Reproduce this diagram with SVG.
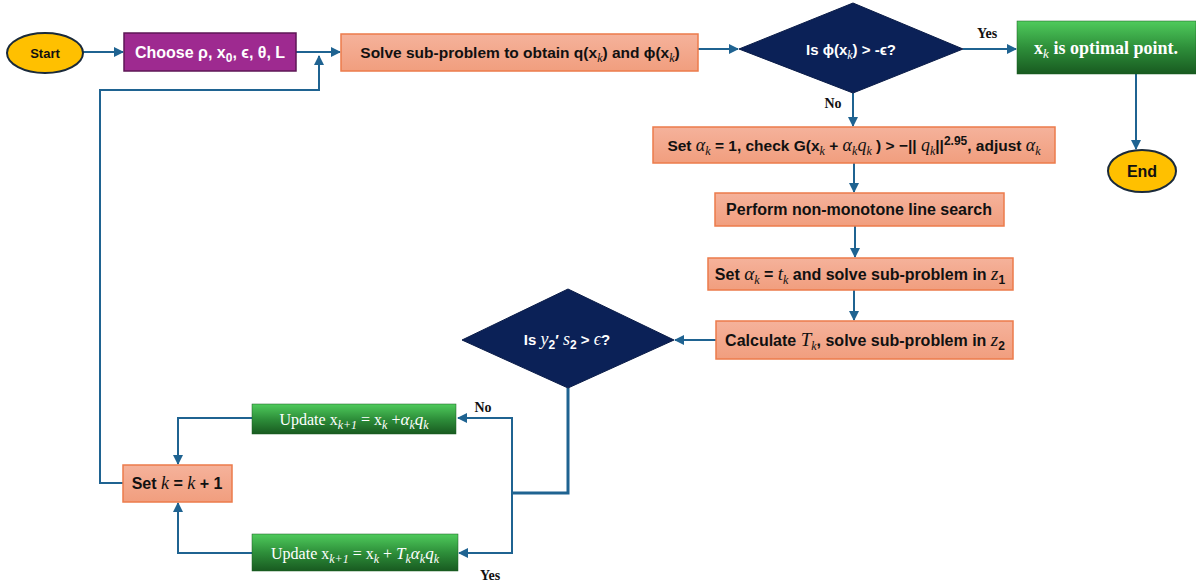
<svg xmlns="http://www.w3.org/2000/svg" width="1196" height="586" viewBox="0 0 1196 586">
<defs>
<linearGradient id="gs" x1="0" y1="0" x2="0" y2="1"><stop offset="0" stop-color="#F5B29B"/><stop offset="1" stop-color="#F19E7E"/></linearGradient>
<linearGradient id="gg" x1="0" y1="0" x2="0" y2="1"><stop offset="0" stop-color="#4FCB5C"/><stop offset="0.5" stop-color="#2E8F3A"/><stop offset="1" stop-color="#185A20"/></linearGradient>
<marker id="ah" markerUnits="userSpaceOnUse" markerWidth="10" markerHeight="10" viewBox="0 0 10 10" refX="9" refY="5" orient="auto"><path d="M0,0 L10,5 L0,10 Z" fill="#1F6391"/></marker>
<style>
.c{fill:none;stroke:#1F6391;stroke-width:2}
.s{fill:url(#gs);stroke:#EC7B4B;stroke-width:1.5}
.g{fill:url(#gg);stroke:#1a5c22;stroke-width:0.5}
.d{fill:#0B2157;stroke:#0a1c48;stroke-width:1}
.t{font-family:"Liberation Sans",Arial,sans-serif;font-weight:bold;font-size:15px;fill:#111;text-anchor:middle}
.w{fill:#fff}
.sf{font-family:"Liberation Serif","Times New Roman",serif;font-weight:bold;font-size:15px;fill:#fff;text-anchor:middle}
.lb{font-family:"Liberation Serif","Times New Roman",serif;font-weight:bold;font-size:14px;fill:#111;text-anchor:middle}
.m{font-family:"Liberation Serif","Times New Roman",serif;font-style:italic;font-weight:normal}
.sb{font-size:12px}
</style>
</defs>
<g id="connectors">
<line class="c" x1="83" y1="52" x2="123" y2="52" marker-end="url(#ah)"/>
<line class="c" x1="296" y1="52" x2="340" y2="52" marker-end="url(#ah)"/>
<polyline class="c" points="123,483 100,483 100,90 319,90 319,56" marker-end="url(#ah)"/>
<line class="c" x1="698" y1="49" x2="738" y2="49" marker-end="url(#ah)"/>
<line class="c" x1="963" y1="49" x2="1016" y2="49" marker-end="url(#ah)"/>
<line class="c" x1="1136" y1="74" x2="1136" y2="149" marker-end="url(#ah)"/>
<line class="c" x1="853" y1="93" x2="853" y2="126" marker-end="url(#ah)"/>
<line class="c" x1="854" y1="163" x2="854" y2="192" marker-end="url(#ah)"/>
<line class="c" x1="855" y1="226" x2="855" y2="257" marker-end="url(#ah)"/>
<line class="c" x1="854" y1="290" x2="854" y2="320" marker-end="url(#ah)"/>
<line class="c" x1="716" y1="340" x2="675" y2="340" marker-end="url(#ah)"/>
<polyline class="c" points="568,388 568,493 512,493" style="stroke-width:3"/>
<polyline class="c" points="512,553 512,418 458,418" marker-end="url(#ah)"/>
<polyline class="c" points="512,493 512,553 459,553" marker-end="url(#ah)"/>
<polyline class="c" points="252,418 178,418 178,464" marker-end="url(#ah)"/>
<polyline class="c" points="252,553 178,553 178,503" marker-end="url(#ah)"/>
<text class="lb" x="987" y="38">Yes</text>
<text class="lb" x="833" y="108">No</text>
<text class="lb" x="483" y="412">No</text>
<text class="lb" x="490" y="580">Yes</text>
</g>
<g id="start"><ellipse cx="45" cy="53" rx="38" ry="20" fill="#FFC000" stroke="#1a2a3a" stroke-width="2"/><text class="t" x="45" y="58" style="font-size:13px">Start</text></g>
<g id="choose"><rect x="124" y="33" width="172" height="38" fill="#9E2A90" stroke="#5e1756" stroke-width="1.5"/><text class="t w" x="210" y="58" style="font-size:16px">Choose ρ, x<tspan class="sb" dy="4">0</tspan><tspan dy="-4">, ϵ, θ, L</tspan></text></g>
<g id="solve"><rect class="s" x="341" y="34" width="357" height="37"/><text class="t" x="520" y="58" style="font-size:15.5px">Solve sub-problem to obtain q(x<tspan class="m sb" dy="4">k</tspan><tspan dy="-4">) and ϕ(x</tspan><tspan class="m sb" dy="4">k</tspan><tspan dy="-4">)</tspan></text></g>
<g id="check1"><polygon class="d" points="739,49 853,3 963,49 853,93"/><text class="t w" x="851" y="55" style="font-size:15px">Is ϕ(x<tspan class="m sb" dy="4">k</tspan><tspan dy="-4">) &gt; -ϵ?</tspan></text></g>
<g id="optimal"><rect class="g" x="1017" y="21" width="179" height="53"/><text class="sf" x="1106" y="54" style="font-size:18px">x<tspan class="m sb" dy="4" style="font-size:13px">k</tspan><tspan dy="-4"> is optimal point.</tspan></text></g>
<g id="end"><ellipse cx="1142" cy="171" rx="34" ry="21" fill="#FFC000" stroke="#1a2a3a" stroke-width="2"/><text class="t" x="1142" y="177" style="font-size:16px">End</text></g>
<g id="setalpha"><rect class="s" x="653" y="127" width="402" height="36"/><text class="t" x="854" y="151" style="font-size:15.5px">Set <tspan class="m" style="font-size:18px">α</tspan><tspan class="m sb" dy="4">k</tspan><tspan dy="-4"> = 1, check G(x</tspan><tspan class="m sb" dy="4">k</tspan><tspan dy="-4"> + </tspan><tspan class="m" style="font-size:18px">α</tspan><tspan class="m sb" dy="4">k</tspan><tspan class="m" dy="-4" style="font-size:18px">q</tspan><tspan class="m sb" dy="4">k</tspan><tspan dy="-4"> ) &gt; −|| </tspan><tspan class="m" style="font-size:18px">q</tspan><tspan class="m sb" dy="4">k</tspan><tspan dy="-4">||</tspan><tspan class="sb" dy="-6">2.95</tspan><tspan dy="6">, adjust </tspan><tspan class="m" style="font-size:18px">α</tspan><tspan class="m sb" dy="4">k</tspan></text></g>
<g id="linesearch"><rect class="s" x="715" y="193" width="289" height="33"/><text class="t" x="859" y="215" style="font-size:16px">Perform non-monotone line search</text></g>
<g id="setalphat"><rect class="s" x="708" y="258" width="305" height="32"/><text class="t" x="860" y="280" style="font-size:16px">Set <tspan class="m" style="font-size:19px">α</tspan><tspan class="m sb" dy="4">k</tspan><tspan dy="-4"> = </tspan><tspan class="m" style="font-size:19px">t</tspan><tspan class="m sb" dy="4">k</tspan><tspan dy="-4"> and solve sub-problem in </tspan><tspan class="m" style="font-size:19px">z</tspan><tspan class="sb" dy="4">1</tspan></text></g>
<g id="calculate"><rect class="s" x="716" y="321" width="297" height="38"/><text class="t" x="865" y="346" style="font-size:16px">Calculate <tspan class="m" style="font-size:19px">T</tspan><tspan class="m sb" dy="4">k</tspan><tspan dy="-4">, solve sub-problem in </tspan><tspan class="m" style="font-size:19px">z</tspan><tspan class="sb" dy="4">2</tspan></text></g>
<g id="check2"><polygon class="d" points="462,340 568,289 674,340 568,388"/><text class="t w" x="567" y="345" style="font-size:15px">Is <tspan class="m" style="font-size:18px">y</tspan><tspan class="sb" dy="4">2</tspan><tspan dy="-4">′ </tspan><tspan class="m" style="font-size:18px">s</tspan><tspan class="sb" dy="4">2</tspan><tspan dy="-4"> &gt; </tspan><tspan class="m" style="font-size:18px">ϵ</tspan><tspan>?</tspan></text></g>
<g id="update1"><rect class="g" x="252" y="404" width="204" height="30"/><text class="sf" x="354" y="425" style="font-size:16px;font-weight:normal">Update x<tspan class="m sb" dy="4" style="font-size:12px">k+1</tspan><tspan dy="-4"> = x</tspan><tspan class="m sb" dy="4" style="font-size:12px">k</tspan><tspan dy="-4"> +</tspan><tspan class="m" style="font-size:17px">α</tspan><tspan class="m sb" dy="4" style="font-size:12px">k</tspan><tspan class="m" dy="-4" style="font-size:17px">q</tspan><tspan class="m sb" dy="4" style="font-size:12px">k</tspan></text></g>
<g id="setk"><rect class="s" x="123" y="465" width="109" height="37"/><text class="t" x="177" y="489" style="font-size:16px">Set <tspan class="m" style="font-size:18px">k</tspan> = <tspan class="m" style="font-size:18px">k</tspan> + 1</text></g>
<g id="update2"><rect class="g" x="252" y="534" width="206" height="37"/><text class="sf" x="355" y="559" style="font-size:16px;font-weight:normal">Update x<tspan class="m sb" dy="4" style="font-size:12px">k+1</tspan><tspan dy="-4"> = x</tspan><tspan class="m sb" dy="4" style="font-size:12px">k</tspan><tspan dy="-4"> + </tspan><tspan class="m" style="font-size:17px">T</tspan><tspan class="m sb" dy="4" style="font-size:12px">k</tspan><tspan class="m" dy="-4" style="font-size:17px">α</tspan><tspan class="m sb" dy="4" style="font-size:12px">k</tspan><tspan class="m" dy="-4" style="font-size:17px">q</tspan><tspan class="m sb" dy="4" style="font-size:12px">k</tspan></text></g>
</svg>
